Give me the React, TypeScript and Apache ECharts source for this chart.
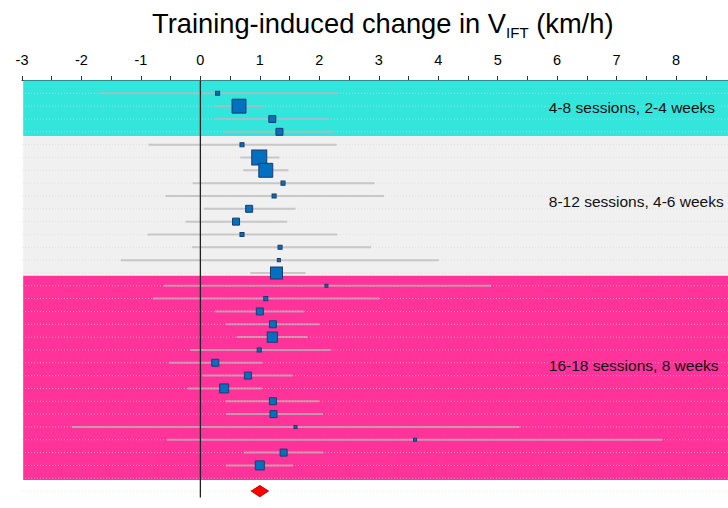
import React, { useEffect, useRef } from "react";
import * as echarts from "echarts";

// ---- data ----
const studyRow = [1, 2, 3, 4, 5, 6, 7, 8, 9, 10, 11, 12, 13, 14, 15, 16, 17, 18, 19, 20, 21, 22, 23, 24, 25, 26, 27, 28, 29, 30];
const studyMean = [0.29, 0.65, 1.21, 1.33, 0.7, 0.99, 1.1, 1.39, 1.24, 0.82, 0.6, 0.7, 1.34, 1.32, 1.28, 2.12, 1.1, 1.0, 1.22, 1.21, 0.99, 0.25, 0.8, 0.4, 1.22, 1.23, 1.6, 3.61, 1.4, 1.0];
const studyLower = [-1.7, 0.25, 0.23, 0.4, -0.87, 0.67, 0.72, -0.13, -0.59, 0.06, -0.25, -0.89, -0.14, -1.34, 0.84, -0.62, -0.8, 0.25, 0.42, 0.61, -0.17, -0.53, 0.04, -0.21, 0.42, 0.43, -2.16, -0.56, 0.73, 0.43];
const studyUpper = [2.32, 1.06, 2.17, 2.24, 2.29, 1.33, 1.48, 2.93, 3.09, 1.6, 1.46, 2.3, 2.87, 4.01, 1.77, 4.89, 3.01, 1.74, 2.0, 1.8, 2.19, 1.04, 1.55, 1.03, 2.0, 2.06, 5.37, 7.77, 2.07, 1.56];
const studyWeight = [1.6, 19, 4.8, 4.8, 1.6, 22, 19, 1.6, 1.6, 4.8, 4.8, 1.6, 1.6, 0.9, 14, 0.9, 1.6, 4.8, 4.8, 10, 1.6, 4.8, 4.8, 8, 4.8, 4.8, 0.9, 0.9, 4.8, 8];

const groupNames = ["4-8 sessions, 2-4 weeks", "8-12 sessions, 4-6 weeks", "16-18 sessions, 8 weeks"];
const groupStart = [0, 4.33, 15.21];
const groupEnd = [4.33, 15.21, 31.14];
const groupLabelRow = [2.12, 9.45, 22.25];

const gridRows = [1, 2, 3, 4, 5, 6, 7, 8, 9, 10, 11, 12, 13, 14, 15, 16, 17, 18, 19, 20, 21, 22, 23, 24, 25, 26, 27, 28, 29, 30, 31, 32];

const pooledMean = 1.0;
const pooledRow = 32;

const xTicksMin = -3;
const xTicksMax = 9;

// ---- styles ----
const FONT = "'Liberation Sans', Arial, Helvetica, sans-serif";
const BAND_COLORS = ["#33E6DC", "#F0F0F0", "#FF3399"];

export default function App() {
  const ref = useRef<HTMLDivElement>(null);

  useEffect(() => {
    const chart = echarts.init(ref.current as HTMLDivElement, null, { renderer: "svg" });

    const bandData = groupNames.map((_, i) => [groupStart[i], groupEnd[i], i]);
    const labelData = groupNames.map((n, i) => [5.86, groupLabelRow[i], i]);
    const ciData = studyRow.map((r, i) => [studyLower[i], r, studyUpper[i]]);
    const pointData = studyRow.map((r, i) => [studyMean[i], r, studyWeight[i]]);
    const rowLineData = gridRows.map((r) => [0, r]);

    const option: any = {
      animation: false,
      backgroundColor: "#ffffff",
      title: {
        text: "{a|Training-induced change in V}{b|IFT}{a| (km/h)}",
        left: 152,
        top: 6,
        padding: 0,
        textStyle: {
          fontWeight: "normal",
          rich: {
            a: { fontSize: 27.3, fontFamily: FONT, fontWeight: "normal", color: "#000", lineHeight: 34 },
            b: { fontSize: 15, fontFamily: FONT, fontWeight: "normal", color: "#000", lineHeight: 18, verticalAlign: "bottom" },
          },
        },
      },
      grid: { left: 22, right: 0.5, top: 80.5, bottom: 10.5 },
      xAxis: {
        type: "value",
        position: "top",
        min: xTicksMin,
        max: xTicksMax,
        interval: 1,
        axisLine: { show: true, lineStyle: { color: "#333", width: 1 } },
        axisTick: { show: true, length: 4.5, lineStyle: { color: "#333" } },
        minorTick: { show: true, splitNumber: 2, length: 4.5, lineStyle: { color: "#333" } },
        axisLabel: { fontSize: 14.5, fontFamily: FONT, color: "#000", margin: 13, showMaxLabel: false },
        splitLine: { show: false },
      },
      yAxis: {
        type: "value",
        inverse: true,
        min: 0,
        max: 32.5,
        show: false,
        splitLine: { show: false },
      },
      series: [
        {
          type: "custom",
          z: 1,
          silent: true,
          data: bandData,
          renderItem: (params: any, api: any) => {
            const p1 = api.coord([-2.98, api.value(0)]);
            const p2 = api.coord([xTicksMax, api.value(1)]);
            return {
              type: "rect",
              shape: { x: p1[0], y: p1[1], width: p2[0] - p1[0], height: p2[1] - p1[1] },
              style: { fill: BAND_COLORS[api.value(2)] },
            };
          },
        },
        {
          type: "custom",
          z: 2,
          silent: true,
          data: rowLineData,
          renderItem: (params: any, api: any) => {
            const p1 = api.coord([xTicksMin, api.value(1)]);
            const p2 = api.coord([xTicksMax, api.value(1)]);
            return {
              type: "line",
              shape: { x1: p1[0], y1: p1[1], x2: p2[0], y2: p2[1] },
              style: { stroke: "rgba(215,215,215,0.6)", lineWidth: 1, lineDash: [1, 2] },
            };
          },
        },
        {
          type: "custom",
          z: 3,
          silent: true,
          data: ciData,
          renderItem: (params: any, api: any) => {
            const p1 = api.coord([api.value(0), api.value(1)]);
            const p2 = api.coord([api.value(2), api.value(1)]);
            return {
              type: "line",
              shape: { x1: p1[0], y1: p1[1], x2: p2[0], y2: p2[1] },
              style: { stroke: "rgba(185,185,185,0.72)", lineWidth: 2 },
            };
          },
        },
        {
          type: "custom",
          z: 4,
          silent: true,
          data: [[0, 0, 32.5]],
          renderItem: (params: any, api: any) => {
            const p1 = api.coord([api.value(0), api.value(1)]);
            const p2 = api.coord([api.value(0), api.value(2)]);
            return {
              type: "line",
              shape: { x1: p1[0], y1: p1[1], x2: p2[0], y2: p2[1] },
              style: { stroke: "#222", lineWidth: 1.3 },
            };
          },
        },
        {
          type: "scatter",
          z: 5,
          silent: true,
          symbol: "rect",
          symbolSize: (v: number[]) => 3.2 * Math.sqrt(v[2]),
          itemStyle: { color: "#0070C0", borderColor: "#1F3A68", borderWidth: 1, opacity: 1 },
          data: pointData,
        },
        {
          type: "scatter",
          z: 5,
          silent: true,
          symbol: "diamond",
          symbolSize: [17, 11],
          itemStyle: { color: "#FF0000", borderColor: "#C00000", borderWidth: 1, opacity: 1 },
          data: [[pooledMean, pooledRow]],
        },
        {
          type: "custom",
          z: 6,
          silent: true,
          data: labelData,
          renderItem: (params: any, api: any) => {
            const p = api.coord([api.value(0), api.value(1)]);
            return {
              type: "text",
              x: p[0],
              y: p[1],
              style: {
                text: groupNames[api.value(2)],
                fill: "#111",
                fontSize: 15.5,
                fontFamily: FONT,
                align: "left",
                verticalAlign: "middle",
              },
            };
          },
        },
      ],
    };

    chart.setOption(option);
    return () => chart.dispose();
  }, []);

  return (
    <div
      ref={ref}
      style={{ position: "fixed", left: 0, top: 0, width: 736, height: 508, background: "#fff" }}
    />
  );
}
